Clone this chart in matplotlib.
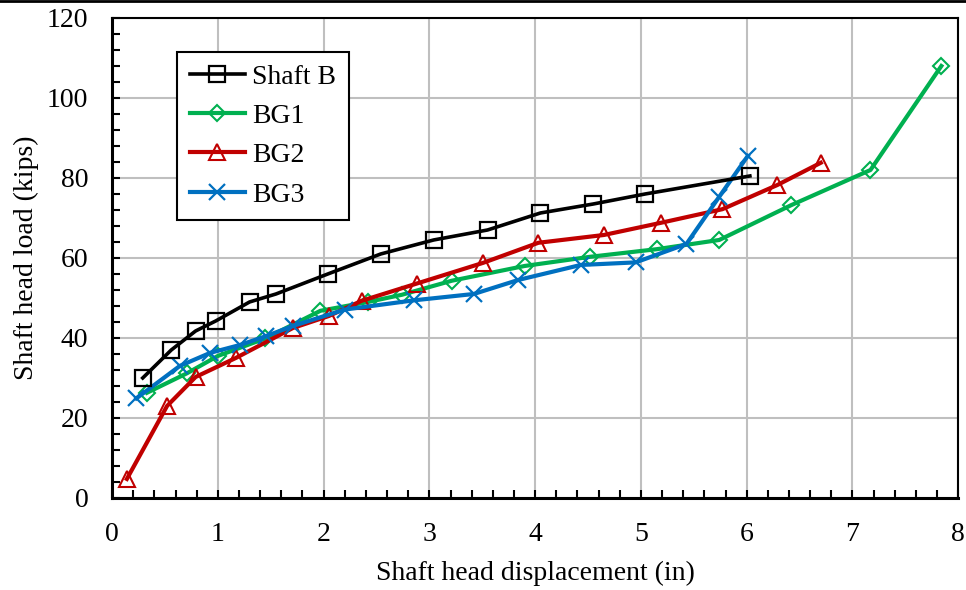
import matplotlib
matplotlib.use("Agg")
import matplotlib.pyplot as plt
from matplotlib.ticker import MultipleLocator
from matplotlib.lines import Line2D

plt.rcParams['font.family'] = ['Liberation Serif', 'DejaVu Serif']
plt.rcParams['font.size'] = 20

# data
shaft_x = [0.29, 0.56, 0.79, 0.98, 1.30, 1.55, 2.04, 2.54, 3.04, 3.55, 4.05, 4.55, 5.04, 6.03]
shaft_y = [30, 37, 41.75, 44.25, 49, 51, 56, 61, 64.5, 67, 71.25, 73.5, 76, 80.5]

bg1_x = [0.33, 0.71, 1.0, 1.45, 1.97, 2.42, 2.74, 3.21, 3.90, 4.52, 5.15, 5.74, 6.42, 7.17, 7.84]
bg1_y = [26.3, 31.2, 35.5, 39.9, 46.8, 49.0, 50.8, 54.3, 58.0, 60.3, 62.2, 64.5, 73.2, 82.0, 108.0]

bg2_x = [0.14, 0.52, 0.79, 1.17, 1.71, 2.05, 2.36, 2.88, 3.51, 4.03, 4.65, 5.19, 5.77, 6.29, 6.70]
bg2_y = [4.75, 23.0, 30.25, 35.0, 42.5, 45.5, 49.3, 53.6, 58.8, 63.8, 65.75, 68.8, 72.2, 78.25, 83.8]

bg3_x = [0.23, 0.64, 0.93, 1.21, 1.46, 1.71, 2.20, 2.85, 3.42, 3.84, 4.43, 4.95, 5.43, 5.74, 6.01]
bg3_y = [24.9, 33.0, 36.3, 38.25, 40.5, 43.0, 47.1, 49.4, 51.0, 54.5, 58.25, 58.9, 63.5, 75.3, 85.5]

fig = plt.figure(figsize=(9.66, 5.9), dpi=100)
ax = fig.add_axes([0.116, 0.156, 0.876, 0.8135])

ax.plot(shaft_x, shaft_y, color='black', lw=2.6, marker='s', ms=11,
        mfc='none', mec='black', mew=1.6, label='Shaft B', zorder=4)
ax.plot(bg1_x, bg1_y, color='#00B050', lw=3, marker='D', ms=8,
        mfc='none', mec='#00B050', mew=1.5, label='BG1', zorder=3)
ax.plot(bg2_x, bg2_y, color='#C00000', lw=3, marker='^', ms=12,
        mfc='none', mec='#C00000', mew=1.5, label='BG2', zorder=3)
ax.plot(bg3_x, bg3_y, color='#0070C0', lw=3, marker='x', ms=12,
        mec='#0070C0', mew=1.6, label='BG3', zorder=3)

ax.set_xlim(0, 8)
ax.set_ylim(0, 120)
ax.xaxis.set_major_locator(MultipleLocator(1))
ax.yaxis.set_major_locator(MultipleLocator(20))
ax.xaxis.set_minor_locator(MultipleLocator(0.2))
ax.yaxis.set_minor_locator(MultipleLocator(4))
ax.tick_params(which='both', direction='in', top=False, right=False, width=1.5)
ax.tick_params(which='major', length=6, pad=17)
ax.tick_params(which='minor', length=6)
ax.grid(True, which='major', color='#BFBFBF', lw=1.5, zorder=0)
ax.set_axisbelow(True)
for s in ax.spines.values():
    s.set_linewidth(1.5)
ax.spines['left'].set_linewidth(2.2)
ax.spines['bottom'].set_linewidth(2.2)

ax.set_xlabel('Shaft head displacement (in)', labelpad=10)
ax.set_ylabel('Shaft head load (kips)', labelpad=6)

leg = ax.legend(loc='upper left', bbox_to_anchor=(0.077, 0.93), fancybox=False,
                edgecolor='black', framealpha=1, handlelength=2.0,
                handletextpad=0.25, labelspacing=0.5, borderpad=0.45,
                borderaxespad=0, fontsize=20)
leg.get_frame().set_linewidth(1.5)

fig.add_artist(Line2D([0, 1], [0.999, 0.999], color='black', lw=2,
                      transform=fig.transFigure))

fig.savefig('out.png', dpi=100)
